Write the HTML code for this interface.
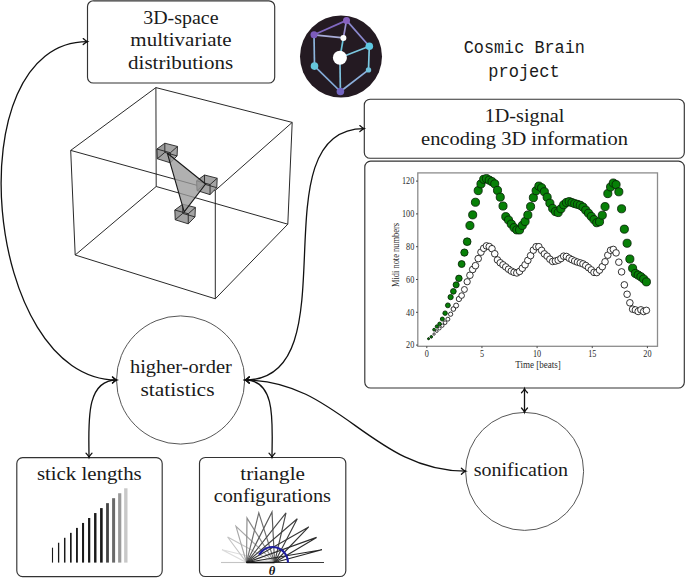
<!DOCTYPE html>
<html><head><meta charset="utf-8"><style>
html,body{margin:0;padding:0;background:#fff;width:685px;height:578px;overflow:hidden;font-family:"Liberation Serif",serif;}
svg{display:block}
</style></head><body>
<svg width="685" height="578" viewBox="0 0 685 578"><rect x="87.5" y="0.8" width="187.2" height="82.2" rx="5.8" ry="5.8" fill="none" stroke="#333" stroke-width="1.15"/>
<text x="180.9" y="23.7" font-family="Liberation Serif" font-size="19.5" fill="#1a1a1a" text-anchor="middle" textLength="75.4" lengthAdjust="spacingAndGlyphs" >3D-space</text>
<text x="181" y="46" font-family="Liberation Serif" font-size="19.5" fill="#1a1a1a" text-anchor="middle" textLength="101.3" lengthAdjust="spacingAndGlyphs" >multivariate</text>
<text x="180.6" y="68.8" font-family="Liberation Serif" font-size="19.5" fill="#1a1a1a" text-anchor="middle" textLength="105" lengthAdjust="spacingAndGlyphs" >distributions</text>
<text x="524.3" y="53" font-family="Liberation Mono" font-size="17.5" fill="#1a1a1a" text-anchor="middle" textLength="121.1" lengthAdjust="spacingAndGlyphs" >Cosmic Brain</text>
<text x="524" y="76.6" font-family="Liberation Mono" font-size="17.5" fill="#1a1a1a" text-anchor="middle" textLength="71.5" lengthAdjust="spacingAndGlyphs" >project</text>
<rect x="364.3" y="99.2" width="320" height="59.1" rx="5.8" ry="5.8" fill="none" stroke="#333" stroke-width="1.15"/>
<text x="524.5" y="121.7" font-family="Liberation Serif" font-size="19.5" fill="#1a1a1a" text-anchor="middle" textLength="79.7" lengthAdjust="spacingAndGlyphs" >1D-signal</text>
<text x="524.5" y="145.1" font-family="Liberation Serif" font-size="19.5" fill="#1a1a1a" text-anchor="middle" textLength="206.9" lengthAdjust="spacingAndGlyphs" >encoding 3D information</text>
<rect x="364.8" y="161.1" width="319.5" height="226.9" rx="5.8" ry="5.8" fill="none" stroke="#333" stroke-width="1.15"/>
<circle cx="180.6" cy="380" r="64.1" fill="none" stroke="#444" stroke-width="0.9"/>
<text x="180.85" y="373.1" font-family="Liberation Serif" font-size="19.5" fill="#1a1a1a" text-anchor="middle" textLength="101.9" lengthAdjust="spacingAndGlyphs" >higher-order</text>
<text x="177.5" y="396.1" font-family="Liberation Serif" font-size="19.5" fill="#1a1a1a" text-anchor="middle" textLength="74" lengthAdjust="spacingAndGlyphs" >statistics</text>
<circle cx="524.6" cy="471.4" r="59" fill="none" stroke="#444" stroke-width="0.9"/>
<text x="520.9" y="476" font-family="Liberation Serif" font-size="19.5" fill="#1a1a1a" text-anchor="middle" textLength="94.4" lengthAdjust="spacingAndGlyphs" >sonification</text>
<rect x="16.8" y="457.6" width="145.4" height="119" rx="5.8" ry="5.8" fill="none" stroke="#333" stroke-width="1.15"/>
<text x="89.3" y="480.1" font-family="Liberation Serif" font-size="19.5" fill="#1a1a1a" text-anchor="middle" textLength="104.8" lengthAdjust="spacingAndGlyphs" >stick lengths</text>
<rect x="199.5" y="457.5" width="146.3" height="119" rx="5.8" ry="5.8" fill="none" stroke="#333" stroke-width="1.15"/>
<text x="272.6" y="479.5" font-family="Liberation Serif" font-size="19.5" fill="#1a1a1a" text-anchor="middle" textLength="64.6" lengthAdjust="spacingAndGlyphs" >triangle</text>
<text x="272.3" y="502.1" font-family="Liberation Serif" font-size="19.5" fill="#1a1a1a" text-anchor="middle" textLength="117.3" lengthAdjust="spacingAndGlyphs" >configurations</text>
<rect x="51.95" y="547.7" width="1.1" height="14.9" fill="#1a1a1a"/>
<rect x="57.96" y="542.75" width="1.29" height="19.85" fill="#1a1a1a"/>
<rect x="63.98" y="537.8" width="1.48" height="24.8" fill="#1a1a1a"/>
<rect x="70" y="532.85" width="1.67" height="29.75" fill="#1a1a1a"/>
<rect x="76.01" y="527.9" width="1.86" height="34.7" fill="#1a1a1a"/>
<rect x="82.02" y="522.95" width="2.05" height="39.65" fill="#1a1a1a"/>
<rect x="88.04" y="518" width="2.24" height="44.6" fill="#1a1a1a"/>
<rect x="94.06" y="513.05" width="2.43" height="49.55" fill="#1a1a1a"/>
<rect x="100.07" y="508.1" width="2.62" height="54.5" fill="#1a1a1a"/>
<rect x="106.09" y="503.15" width="2.81" height="59.45" fill="#444"/>
<rect x="112.1" y="498.2" width="3" height="64.4" fill="#6a6a6a"/>
<rect x="118.12" y="493.25" width="3.19" height="69.35" fill="#9a9a9a"/>
<rect x="124.13" y="488.3" width="3.38" height="74.3" fill="#c8c8c8"/>
<line x1="221" y1="562.5" x2="246.5" y2="562.5" stroke="#c4c4c4" stroke-width="1.1"/>
<line x1="274.6" y1="562.5" x2="324" y2="562.5" stroke="#3a3a3a" stroke-width="1.0"/>
<path d="M246.5,562.5 L222,549.7 L274.6,562.5" fill="none" stroke="#dcdcdc" stroke-width="1.15"/>
<path d="M246.5,562.5 L227.6,537 L274.6,562.5" fill="none" stroke="#c4c4c4" stroke-width="1.15"/>
<path d="M246.5,562.5 L236,526.4 L274.6,562.5" fill="none" stroke="#a8a8a8" stroke-width="1.15"/>
<path d="M246.5,562.5 L247,518.1 L274.6,562.5" fill="none" stroke="#8a8a8a" stroke-width="1.15"/>
<path d="M246.5,562.5 L258.8,512.9 L274.6,562.5" fill="none" stroke="#6e6e6e" stroke-width="1.15"/>
<path d="M246.5,562.5 L272,512 L274.6,562.5" fill="none" stroke="#5a5a5a" stroke-width="1.15"/>
<path d="M246.5,562.5 L286,512.9 L274.6,562.5" fill="none" stroke="#4a4a4a" stroke-width="1.15"/>
<path d="M246.5,562.5 L297.3,518.7 L274.6,562.5" fill="none" stroke="#3e3e3e" stroke-width="1.15"/>
<path d="M246.5,562.5 L308.7,526.9 L274.6,562.5" fill="none" stroke="#343434" stroke-width="1.15"/>
<path d="M246.5,562.5 L316.6,537.4 L274.6,562.5" fill="none" stroke="#2c2c2c" stroke-width="1.15"/>
<path d="M246.5,562.5 L321.9,549.7 L274.6,562.5" fill="none" stroke="#262626" stroke-width="1.15"/>
<line x1="246.5" y1="562.5" x2="274.6" y2="562.5" stroke="#111" stroke-width="1.6"/>
<path d="M259.08,554.75 A15.5,15.5 0 0 1 288,562.5" fill="none" stroke="#1f1fa0" stroke-width="2"/>
<text x="272" y="575" font-family="Liberation Serif" font-size="12.5" fill="#111" text-anchor="middle" font-weight="bold" font-style="italic">θ</text>
<line x1="155.9" y1="87.6" x2="292.2" y2="122.4" stroke="#1e1e1e" stroke-width="0.95"/>
<line x1="155.9" y1="87.6" x2="70.7" y2="150.4" stroke="#1e1e1e" stroke-width="0.95"/>
<line x1="70.7" y1="150.4" x2="215.3" y2="190.4" stroke="#1e1e1e" stroke-width="0.95"/>
<line x1="292.2" y1="122.4" x2="215.3" y2="190.4" stroke="#1e1e1e" stroke-width="0.95"/>
<line x1="155.9" y1="87.6" x2="156.2" y2="186.5" stroke="#1e1e1e" stroke-width="0.95"/>
<line x1="292.2" y1="122.4" x2="287.8" y2="224.2" stroke="#1e1e1e" stroke-width="0.95"/>
<line x1="70.7" y1="150.4" x2="75.2" y2="255" stroke="#1e1e1e" stroke-width="0.95"/>
<line x1="215.3" y1="190.4" x2="215.3" y2="298.8" stroke="#1e1e1e" stroke-width="0.95"/>
<line x1="156.2" y1="186.5" x2="287.8" y2="224.2" stroke="#1e1e1e" stroke-width="0.95"/>
<line x1="156.2" y1="186.5" x2="75.2" y2="255" stroke="#1e1e1e" stroke-width="0.95"/>
<line x1="75.2" y1="255" x2="215.3" y2="298.8" stroke="#1e1e1e" stroke-width="0.95"/>
<line x1="287.8" y1="224.2" x2="215.3" y2="298.8" stroke="#1e1e1e" stroke-width="0.95"/>
<path d="M164.82,143.2 L177.5,146.44 L177.09,155.9 L170.35,162.84 L157.32,158.77 L156.9,149.04 Z" fill="#a4a4a4" stroke="none"/>
<path d="M164.82,143.2 L164.85,152.4 L157.32,158.77 L156.9,149.04 Z" fill="#8c8c8c" fill-opacity="0.35" stroke="none"/>
<line x1="164.82" y1="143.2" x2="177.5" y2="146.44" stroke="#222" stroke-width="0.9"/>
<line x1="164.82" y1="143.2" x2="156.9" y2="149.04" stroke="#222" stroke-width="0.9"/>
<line x1="156.9" y1="149.04" x2="170.35" y2="152.76" stroke="#222" stroke-width="0.9"/>
<line x1="177.5" y1="146.44" x2="170.35" y2="152.76" stroke="#222" stroke-width="0.9"/>
<line x1="164.82" y1="143.2" x2="164.85" y2="152.4" stroke="#222" stroke-width="0.9"/>
<line x1="177.5" y1="146.44" x2="177.09" y2="155.9" stroke="#222" stroke-width="0.9"/>
<line x1="156.9" y1="149.04" x2="157.32" y2="158.77" stroke="#222" stroke-width="0.9"/>
<line x1="170.35" y1="152.76" x2="170.35" y2="162.84" stroke="#222" stroke-width="0.9"/>
<line x1="164.85" y1="152.4" x2="177.09" y2="155.9" stroke="#222" stroke-width="0.9"/>
<line x1="164.85" y1="152.4" x2="157.32" y2="158.77" stroke="#222" stroke-width="0.9"/>
<line x1="157.32" y1="158.77" x2="170.35" y2="162.84" stroke="#222" stroke-width="0.9"/>
<line x1="177.09" y1="155.9" x2="170.35" y2="162.84" stroke="#222" stroke-width="0.9"/>
<path d="M204.52,175 L217.2,178.24 L216.79,187.7 L210.05,194.64 L197.02,190.57 L196.6,180.84 Z" fill="#a4a4a4" stroke="none"/>
<path d="M204.52,175 L204.55,184.2 L197.02,190.57 L196.6,180.84 Z" fill="#8c8c8c" fill-opacity="0.35" stroke="none"/>
<line x1="204.52" y1="175" x2="217.2" y2="178.24" stroke="#222" stroke-width="0.9"/>
<line x1="204.52" y1="175" x2="196.6" y2="180.84" stroke="#222" stroke-width="0.9"/>
<line x1="196.6" y1="180.84" x2="210.05" y2="184.56" stroke="#222" stroke-width="0.9"/>
<line x1="217.2" y1="178.24" x2="210.05" y2="184.56" stroke="#222" stroke-width="0.9"/>
<line x1="204.52" y1="175" x2="204.55" y2="184.2" stroke="#222" stroke-width="0.9"/>
<line x1="217.2" y1="178.24" x2="216.79" y2="187.7" stroke="#222" stroke-width="0.9"/>
<line x1="196.6" y1="180.84" x2="197.02" y2="190.57" stroke="#222" stroke-width="0.9"/>
<line x1="210.05" y1="184.56" x2="210.05" y2="194.64" stroke="#222" stroke-width="0.9"/>
<line x1="204.55" y1="184.2" x2="216.79" y2="187.7" stroke="#222" stroke-width="0.9"/>
<line x1="204.55" y1="184.2" x2="197.02" y2="190.57" stroke="#222" stroke-width="0.9"/>
<line x1="197.02" y1="190.57" x2="210.05" y2="194.64" stroke="#222" stroke-width="0.9"/>
<line x1="216.79" y1="187.7" x2="210.05" y2="194.64" stroke="#222" stroke-width="0.9"/>
<path d="M182.72,204.2 L195.4,207.44 L194.99,216.9 L188.25,223.84 L175.22,219.77 L174.8,210.04 Z" fill="#a4a4a4" stroke="none"/>
<path d="M182.72,204.2 L182.75,213.4 L175.22,219.77 L174.8,210.04 Z" fill="#8c8c8c" fill-opacity="0.35" stroke="none"/>
<line x1="182.72" y1="204.2" x2="195.4" y2="207.44" stroke="#222" stroke-width="0.9"/>
<line x1="182.72" y1="204.2" x2="174.8" y2="210.04" stroke="#222" stroke-width="0.9"/>
<line x1="174.8" y1="210.04" x2="188.25" y2="213.76" stroke="#222" stroke-width="0.9"/>
<line x1="195.4" y1="207.44" x2="188.25" y2="213.76" stroke="#222" stroke-width="0.9"/>
<line x1="182.72" y1="204.2" x2="182.75" y2="213.4" stroke="#222" stroke-width="0.9"/>
<line x1="195.4" y1="207.44" x2="194.99" y2="216.9" stroke="#222" stroke-width="0.9"/>
<line x1="174.8" y1="210.04" x2="175.22" y2="219.77" stroke="#222" stroke-width="0.9"/>
<line x1="188.25" y1="213.76" x2="188.25" y2="223.84" stroke="#222" stroke-width="0.9"/>
<line x1="182.75" y1="213.4" x2="194.99" y2="216.9" stroke="#222" stroke-width="0.9"/>
<line x1="182.75" y1="213.4" x2="175.22" y2="219.77" stroke="#222" stroke-width="0.9"/>
<line x1="175.22" y1="219.77" x2="188.25" y2="223.84" stroke="#222" stroke-width="0.9"/>
<line x1="194.99" y1="216.9" x2="188.25" y2="223.84" stroke="#222" stroke-width="0.9"/>
<path d="M167.4,153.3 L205.6,184 L184.2,211.8 Z" fill="#9a9a9a" fill-opacity="0.78" stroke="#1a1a1a" stroke-width="1.15" stroke-linejoin="round"/>
<circle cx="341" cy="56.5" r="41" fill="#241a22"/>
<line x1="346.5" y1="20.4" x2="314" y2="34.8" stroke="#8068c0" stroke-width="1.7"/>
<line x1="346.5" y1="20.4" x2="343.4" y2="37.9" stroke="#9a90d0" stroke-width="1.7"/>
<line x1="346.5" y1="20.4" x2="369.3" y2="46.3" stroke="#8c8ad0" stroke-width="1.7"/>
<line x1="314" y1="34.8" x2="343.4" y2="37.9" stroke="#a8acd8" stroke-width="1.7"/>
<line x1="314" y1="34.8" x2="314.5" y2="66.1" stroke="#8cb4dc" stroke-width="1.7"/>
<line x1="343.4" y1="37.9" x2="339.9" y2="57.7" stroke="#6cc4dc" stroke-width="1.7"/>
<line x1="339.9" y1="57.7" x2="369.3" y2="46.3" stroke="#7cc8e0" stroke-width="1.7"/>
<line x1="339.9" y1="57.7" x2="340.4" y2="91.5" stroke="#7cc0dc" stroke-width="1.7"/>
<line x1="314.5" y1="66.1" x2="340.4" y2="91.5" stroke="#84acd8" stroke-width="1.7"/>
<line x1="369.3" y1="46.3" x2="368.5" y2="69.9" stroke="#7cc8e0" stroke-width="1.7"/>
<line x1="368.5" y1="69.9" x2="340.4" y2="91.5" stroke="#8cb0dc" stroke-width="1.7"/>
<circle cx="346.5" cy="20.4" r="3.5" fill="#8862c0"/>
<circle cx="314" cy="34.8" r="3.5" fill="#7c5cbc"/>
<circle cx="343.4" cy="37.9" r="3.0" fill="#ffffff"/>
<circle cx="369.3" cy="46.3" r="3.8" fill="#5ec8e2"/>
<circle cx="339.9" cy="57.7" r="7.0" fill="#ffffff"/>
<circle cx="314.5" cy="66.1" r="3.8" fill="#66c6dc"/>
<circle cx="368.5" cy="69.9" r="2.7" fill="#70c2dc"/>
<circle cx="340.4" cy="91.5" r="3.8" fill="#7264c0"/>
<rect x="417.8" y="172.9" width="239.7" height="173.4" fill="none" stroke="#8c8c8c" stroke-width="1.3"/>
<line x1="416" y1="345.1" x2="417.8" y2="345.1" stroke="#333" stroke-width="0.9"/>
<text x="414.3" y="348.3" font-family="Liberation Serif" font-size="9.8" fill="#2a2a2a" text-anchor="end" textLength="8.2" lengthAdjust="spacingAndGlyphs" >20</text>
<line x1="416" y1="312.3" x2="417.8" y2="312.3" stroke="#333" stroke-width="0.9"/>
<text x="414.3" y="315.5" font-family="Liberation Serif" font-size="9.8" fill="#2a2a2a" text-anchor="end" textLength="8.2" lengthAdjust="spacingAndGlyphs" >40</text>
<line x1="416" y1="279.5" x2="417.8" y2="279.5" stroke="#333" stroke-width="0.9"/>
<text x="414.3" y="282.7" font-family="Liberation Serif" font-size="9.8" fill="#2a2a2a" text-anchor="end" textLength="8.2" lengthAdjust="spacingAndGlyphs" >60</text>
<line x1="416" y1="246.7" x2="417.8" y2="246.7" stroke="#333" stroke-width="0.9"/>
<text x="414.3" y="249.9" font-family="Liberation Serif" font-size="9.8" fill="#2a2a2a" text-anchor="end" textLength="8.2" lengthAdjust="spacingAndGlyphs" >80</text>
<line x1="416" y1="213.9" x2="417.8" y2="213.9" stroke="#333" stroke-width="0.9"/>
<text x="414.3" y="217.1" font-family="Liberation Serif" font-size="9.8" fill="#2a2a2a" text-anchor="end" textLength="12.3" lengthAdjust="spacingAndGlyphs" >100</text>
<line x1="416" y1="181.1" x2="417.8" y2="181.1" stroke="#333" stroke-width="0.9"/>
<text x="414.3" y="184.3" font-family="Liberation Serif" font-size="9.8" fill="#2a2a2a" text-anchor="end" textLength="12.3" lengthAdjust="spacingAndGlyphs" >120</text>
<line x1="426.8" y1="346.3" x2="426.8" y2="348.1" stroke="#333" stroke-width="0.9"/>
<text x="426.8" y="357" font-family="Liberation Serif" font-size="9.8" fill="#2a2a2a" text-anchor="middle" textLength="4.1" lengthAdjust="spacingAndGlyphs" >0</text>
<line x1="481.95" y1="346.3" x2="481.95" y2="348.1" stroke="#333" stroke-width="0.9"/>
<text x="481.95" y="357" font-family="Liberation Serif" font-size="9.8" fill="#2a2a2a" text-anchor="middle" textLength="4.1" lengthAdjust="spacingAndGlyphs" >5</text>
<line x1="537.1" y1="346.3" x2="537.1" y2="348.1" stroke="#333" stroke-width="0.9"/>
<text x="537.1" y="357" font-family="Liberation Serif" font-size="9.8" fill="#2a2a2a" text-anchor="middle" textLength="8.2" lengthAdjust="spacingAndGlyphs" >10</text>
<line x1="592.25" y1="346.3" x2="592.25" y2="348.1" stroke="#333" stroke-width="0.9"/>
<text x="592.25" y="357" font-family="Liberation Serif" font-size="9.8" fill="#2a2a2a" text-anchor="middle" textLength="8.2" lengthAdjust="spacingAndGlyphs" >15</text>
<line x1="647.4" y1="346.3" x2="647.4" y2="348.1" stroke="#333" stroke-width="0.9"/>
<text x="647.4" y="357" font-family="Liberation Serif" font-size="9.8" fill="#2a2a2a" text-anchor="middle" textLength="8.2" lengthAdjust="spacingAndGlyphs" >20</text>
<text x="538" y="367.8" font-family="Liberation Serif" font-size="9.5" fill="#2a2a2a" text-anchor="middle" textLength="45.5" lengthAdjust="spacingAndGlyphs" >Time [beats]</text>
<text x="0" y="0" font-family="Liberation Serif" font-size="9.5" fill="#2a2a2a" text-anchor="middle" textLength="64" lengthAdjust="spacingAndGlyphs" transform="translate(398.5,255) rotate(-90)">Midi note numbers</text>
<circle cx="428.56" cy="338.7" r="0.83" fill="#fff" stroke="#111" stroke-width="0.85"/>
<circle cx="431.32" cy="336.89" r="1" fill="#fff" stroke="#111" stroke-width="0.85"/>
<circle cx="434.08" cy="334.08" r="1.16" fill="#fff" stroke="#111" stroke-width="0.85"/>
<circle cx="436.84" cy="331.1" r="1.33" fill="#fff" stroke="#111" stroke-width="0.85"/>
<circle cx="439.59" cy="328.46" r="1.49" fill="#fff" stroke="#111" stroke-width="0.85"/>
<circle cx="442.35" cy="325.7" r="1.66" fill="#fff" stroke="#111" stroke-width="0.85"/>
<circle cx="445.11" cy="322.7" r="1.82" fill="#fff" stroke="#111" stroke-width="0.85"/>
<circle cx="447.87" cy="319.18" r="1.99" fill="#fff" stroke="#111" stroke-width="0.85"/>
<circle cx="450.62" cy="314.19" r="2.15" fill="#fff" stroke="#111" stroke-width="0.85"/>
<circle cx="453.38" cy="309.03" r="2.32" fill="#fff" stroke="#111" stroke-width="0.85"/>
<circle cx="456.14" cy="305.55" r="2.48" fill="#fff" stroke="#111" stroke-width="0.85"/>
<circle cx="458.9" cy="298.99" r="2.65" fill="#fff" stroke="#111" stroke-width="0.85"/>
<circle cx="461.65" cy="295.57" r="2.81" fill="#fff" stroke="#111" stroke-width="0.85"/>
<circle cx="464.41" cy="289.48" r="2.98" fill="#fff" stroke="#111" stroke-width="0.85"/>
<circle cx="467.17" cy="281.73" r="3.14" fill="#fff" stroke="#111" stroke-width="0.85"/>
<circle cx="469.93" cy="275.25" r="3.3" fill="#fff" stroke="#111" stroke-width="0.85"/>
<circle cx="472.68" cy="269.47" r="3.3" fill="#fff" stroke="#111" stroke-width="0.85"/>
<circle cx="475.44" cy="265.67" r="3.3" fill="#fff" stroke="#111" stroke-width="0.85"/>
<circle cx="478.2" cy="258.61" r="3.3" fill="#fff" stroke="#111" stroke-width="0.85"/>
<circle cx="480.96" cy="252.18" r="3.3" fill="#fff" stroke="#111" stroke-width="0.85"/>
<circle cx="483.71" cy="248.28" r="3.3" fill="#fff" stroke="#111" stroke-width="0.85"/>
<circle cx="486.47" cy="245.88" r="3.3" fill="#fff" stroke="#111" stroke-width="0.85"/>
<circle cx="489.23" cy="246.53" r="3.3" fill="#fff" stroke="#111" stroke-width="0.85"/>
<circle cx="491.99" cy="248.7" r="3.3" fill="#fff" stroke="#111" stroke-width="0.85"/>
<circle cx="494.74" cy="253.76" r="3.3" fill="#fff" stroke="#111" stroke-width="0.85"/>
<circle cx="497.5" cy="259.96" r="3.3" fill="#fff" stroke="#111" stroke-width="0.85"/>
<circle cx="500.26" cy="262.79" r="3.3" fill="#fff" stroke="#111" stroke-width="0.85"/>
<circle cx="503.02" cy="264.84" r="3.3" fill="#fff" stroke="#111" stroke-width="0.85"/>
<circle cx="505.77" cy="266.92" r="3.3" fill="#fff" stroke="#111" stroke-width="0.85"/>
<circle cx="508.53" cy="269.21" r="3.3" fill="#fff" stroke="#111" stroke-width="0.85"/>
<circle cx="511.29" cy="271.09" r="3.3" fill="#fff" stroke="#111" stroke-width="0.85"/>
<circle cx="514.05" cy="272.33" r="3.3" fill="#fff" stroke="#111" stroke-width="0.85"/>
<circle cx="516.8" cy="272.94" r="3.3" fill="#fff" stroke="#111" stroke-width="0.85"/>
<circle cx="519.56" cy="271.43" r="3.3" fill="#fff" stroke="#111" stroke-width="0.85"/>
<circle cx="522.32" cy="268.27" r="3.3" fill="#fff" stroke="#111" stroke-width="0.85"/>
<circle cx="525.08" cy="264.81" r="3.3" fill="#fff" stroke="#111" stroke-width="0.85"/>
<circle cx="527.83" cy="260.39" r="3.3" fill="#fff" stroke="#111" stroke-width="0.85"/>
<circle cx="530.59" cy="255.63" r="3.3" fill="#fff" stroke="#111" stroke-width="0.85"/>
<circle cx="533.35" cy="250.14" r="3.3" fill="#fff" stroke="#111" stroke-width="0.85"/>
<circle cx="536.11" cy="246.7" r="3.3" fill="#fff" stroke="#111" stroke-width="0.85"/>
<circle cx="538.86" cy="246.7" r="3.3" fill="#fff" stroke="#111" stroke-width="0.85"/>
<circle cx="541.62" cy="250.37" r="3.3" fill="#fff" stroke="#111" stroke-width="0.85"/>
<circle cx="544.38" cy="253.9" r="3.3" fill="#fff" stroke="#111" stroke-width="0.85"/>
<circle cx="547.14" cy="256.15" r="3.3" fill="#fff" stroke="#111" stroke-width="0.85"/>
<circle cx="549.89" cy="259.19" r="3.3" fill="#fff" stroke="#111" stroke-width="0.85"/>
<circle cx="552.65" cy="261.46" r="3.3" fill="#fff" stroke="#111" stroke-width="0.85"/>
<circle cx="555.41" cy="261.07" r="3.3" fill="#fff" stroke="#111" stroke-width="0.85"/>
<circle cx="558.17" cy="260.19" r="3.3" fill="#fff" stroke="#111" stroke-width="0.85"/>
<circle cx="560.92" cy="258.56" r="3.3" fill="#fff" stroke="#111" stroke-width="0.85"/>
<circle cx="563.68" cy="256.17" r="3.3" fill="#fff" stroke="#111" stroke-width="0.85"/>
<circle cx="566.44" cy="256.48" r="3.3" fill="#fff" stroke="#111" stroke-width="0.85"/>
<circle cx="569.2" cy="258.24" r="3.3" fill="#fff" stroke="#111" stroke-width="0.85"/>
<circle cx="571.95" cy="259.68" r="3.3" fill="#fff" stroke="#111" stroke-width="0.85"/>
<circle cx="574.71" cy="261.03" r="3.3" fill="#fff" stroke="#111" stroke-width="0.85"/>
<circle cx="577.47" cy="262.09" r="3.3" fill="#fff" stroke="#111" stroke-width="0.85"/>
<circle cx="580.23" cy="262.91" r="3.3" fill="#fff" stroke="#111" stroke-width="0.85"/>
<circle cx="582.98" cy="263.89" r="3.3" fill="#fff" stroke="#111" stroke-width="0.85"/>
<circle cx="585.74" cy="265.49" r="3.3" fill="#fff" stroke="#111" stroke-width="0.85"/>
<circle cx="588.5" cy="267.65" r="3.3" fill="#fff" stroke="#111" stroke-width="0.85"/>
<circle cx="591.26" cy="269.89" r="3.3" fill="#fff" stroke="#111" stroke-width="0.85"/>
<circle cx="594.01" cy="272.38" r="3.3" fill="#fff" stroke="#111" stroke-width="0.85"/>
<circle cx="596.77" cy="272.57" r="3.3" fill="#fff" stroke="#111" stroke-width="0.85"/>
<circle cx="599.53" cy="270.11" r="3.3" fill="#fff" stroke="#111" stroke-width="0.85"/>
<circle cx="602.29" cy="266.65" r="3.3" fill="#fff" stroke="#111" stroke-width="0.85"/>
<circle cx="605.04" cy="261.79" r="3.3" fill="#fff" stroke="#111" stroke-width="0.85"/>
<circle cx="607.8" cy="255.18" r="3.3" fill="#fff" stroke="#111" stroke-width="0.85"/>
<circle cx="610.56" cy="250.3" r="3.3" fill="#fff" stroke="#111" stroke-width="0.85"/>
<circle cx="613.32" cy="249.44" r="3.3" fill="#fff" stroke="#111" stroke-width="0.85"/>
<circle cx="616.07" cy="252.88" r="3.3" fill="#fff" stroke="#111" stroke-width="0.85"/>
<circle cx="618.83" cy="262.18" r="3.3" fill="#fff" stroke="#111" stroke-width="0.85"/>
<circle cx="621.59" cy="271.88" r="3.3" fill="#fff" stroke="#111" stroke-width="0.85"/>
<circle cx="624.35" cy="284.85" r="3.3" fill="#fff" stroke="#111" stroke-width="0.85"/>
<circle cx="627.1" cy="294.26" r="3.3" fill="#fff" stroke="#111" stroke-width="0.85"/>
<circle cx="629.86" cy="302.79" r="3.3" fill="#fff" stroke="#111" stroke-width="0.85"/>
<circle cx="632.62" cy="309.18" r="3.3" fill="#fff" stroke="#111" stroke-width="0.85"/>
<circle cx="635.38" cy="309.93" r="3.3" fill="#fff" stroke="#111" stroke-width="0.85"/>
<circle cx="638.13" cy="311.46" r="3.3" fill="#fff" stroke="#111" stroke-width="0.85"/>
<circle cx="640.89" cy="309.85" r="3.3" fill="#fff" stroke="#111" stroke-width="0.85"/>
<circle cx="643.65" cy="311.53" r="3.3" fill="#fff" stroke="#111" stroke-width="0.85"/>
<circle cx="646.41" cy="310.38" r="3.3" fill="#fff" stroke="#111" stroke-width="0.85"/>
<circle cx="428.56" cy="338.7" r="1.02" fill="#078007" stroke="#062406" stroke-width="0.85"/>
<circle cx="431.32" cy="336.79" r="1.22" fill="#078007" stroke="#062406" stroke-width="0.85"/>
<circle cx="434.08" cy="329.67" r="1.43" fill="#078007" stroke="#062406" stroke-width="0.85"/>
<circle cx="436.84" cy="326.46" r="1.63" fill="#078007" stroke="#062406" stroke-width="0.85"/>
<circle cx="439.59" cy="323.92" r="1.83" fill="#078007" stroke="#062406" stroke-width="0.85"/>
<circle cx="442.35" cy="319.08" r="2.03" fill="#078007" stroke="#062406" stroke-width="0.85"/>
<circle cx="445.11" cy="313.15" r="2.24" fill="#078007" stroke="#062406" stroke-width="0.85"/>
<circle cx="447.87" cy="305.36" r="2.44" fill="#078007" stroke="#062406" stroke-width="0.85"/>
<circle cx="450.62" cy="297.09" r="2.64" fill="#078007" stroke="#062406" stroke-width="0.85"/>
<circle cx="453.38" cy="291.37" r="2.84" fill="#078007" stroke="#062406" stroke-width="0.85"/>
<circle cx="456.14" cy="284.86" r="3.05" fill="#078007" stroke="#062406" stroke-width="0.85"/>
<circle cx="458.9" cy="278.36" r="3.25" fill="#078007" stroke="#062406" stroke-width="0.85"/>
<circle cx="461.65" cy="264.05" r="3.45" fill="#078007" stroke="#062406" stroke-width="0.85"/>
<circle cx="464.41" cy="252.59" r="3.65" fill="#078007" stroke="#062406" stroke-width="0.85"/>
<circle cx="467.17" cy="241.71" r="3.86" fill="#078007" stroke="#062406" stroke-width="0.85"/>
<circle cx="469.93" cy="225.54" r="4.05" fill="#078007" stroke="#062406" stroke-width="0.85"/>
<circle cx="472.68" cy="214.87" r="4.05" fill="#078007" stroke="#062406" stroke-width="0.85"/>
<circle cx="475.44" cy="202.26" r="4.05" fill="#078007" stroke="#062406" stroke-width="0.85"/>
<circle cx="478.2" cy="190.61" r="4.05" fill="#078007" stroke="#062406" stroke-width="0.85"/>
<circle cx="480.96" cy="183.93" r="4.05" fill="#078007" stroke="#062406" stroke-width="0.85"/>
<circle cx="483.71" cy="179.31" r="4.05" fill="#078007" stroke="#062406" stroke-width="0.85"/>
<circle cx="486.47" cy="178.64" r="4.05" fill="#078007" stroke="#062406" stroke-width="0.85"/>
<circle cx="489.23" cy="180.14" r="4.05" fill="#078007" stroke="#062406" stroke-width="0.85"/>
<circle cx="491.99" cy="181.64" r="4.05" fill="#078007" stroke="#062406" stroke-width="0.85"/>
<circle cx="494.74" cy="183.86" r="4.05" fill="#078007" stroke="#062406" stroke-width="0.85"/>
<circle cx="497.5" cy="190.38" r="4.05" fill="#078007" stroke="#062406" stroke-width="0.85"/>
<circle cx="500.26" cy="197.15" r="4.05" fill="#078007" stroke="#062406" stroke-width="0.85"/>
<circle cx="503.02" cy="206.04" r="4.05" fill="#078007" stroke="#062406" stroke-width="0.85"/>
<circle cx="505.77" cy="216.66" r="4.05" fill="#078007" stroke="#062406" stroke-width="0.85"/>
<circle cx="508.53" cy="220.01" r="4.05" fill="#078007" stroke="#062406" stroke-width="0.85"/>
<circle cx="511.29" cy="224.05" r="4.05" fill="#078007" stroke="#062406" stroke-width="0.85"/>
<circle cx="514.05" cy="227.6" r="4.05" fill="#078007" stroke="#062406" stroke-width="0.85"/>
<circle cx="516.8" cy="229.88" r="4.05" fill="#078007" stroke="#062406" stroke-width="0.85"/>
<circle cx="519.56" cy="229.92" r="4.05" fill="#078007" stroke="#062406" stroke-width="0.85"/>
<circle cx="522.32" cy="225.42" r="4.05" fill="#078007" stroke="#062406" stroke-width="0.85"/>
<circle cx="525.08" cy="221.48" r="4.05" fill="#078007" stroke="#062406" stroke-width="0.85"/>
<circle cx="527.83" cy="214.99" r="4.05" fill="#078007" stroke="#062406" stroke-width="0.85"/>
<circle cx="530.59" cy="206.59" r="4.05" fill="#078007" stroke="#062406" stroke-width="0.85"/>
<circle cx="533.35" cy="197.66" r="4.05" fill="#078007" stroke="#062406" stroke-width="0.85"/>
<circle cx="536.11" cy="190.68" r="4.05" fill="#078007" stroke="#062406" stroke-width="0.85"/>
<circle cx="538.86" cy="186.1" r="4.05" fill="#078007" stroke="#062406" stroke-width="0.85"/>
<circle cx="541.62" cy="187.79" r="4.05" fill="#078007" stroke="#062406" stroke-width="0.85"/>
<circle cx="544.38" cy="191.73" r="4.05" fill="#078007" stroke="#062406" stroke-width="0.85"/>
<circle cx="547.14" cy="197.2" r="4.05" fill="#078007" stroke="#062406" stroke-width="0.85"/>
<circle cx="549.89" cy="203.19" r="4.05" fill="#078007" stroke="#062406" stroke-width="0.85"/>
<circle cx="552.65" cy="208.44" r="4.05" fill="#078007" stroke="#062406" stroke-width="0.85"/>
<circle cx="555.41" cy="211.6" r="4.05" fill="#078007" stroke="#062406" stroke-width="0.85"/>
<circle cx="558.17" cy="212.57" r="4.05" fill="#078007" stroke="#062406" stroke-width="0.85"/>
<circle cx="560.92" cy="208.78" r="4.05" fill="#078007" stroke="#062406" stroke-width="0.85"/>
<circle cx="563.68" cy="204.79" r="4.05" fill="#078007" stroke="#062406" stroke-width="0.85"/>
<circle cx="566.44" cy="202.45" r="4.05" fill="#078007" stroke="#062406" stroke-width="0.85"/>
<circle cx="569.2" cy="201.63" r="4.05" fill="#078007" stroke="#062406" stroke-width="0.85"/>
<circle cx="571.95" cy="202.6" r="4.05" fill="#078007" stroke="#062406" stroke-width="0.85"/>
<circle cx="574.71" cy="203.61" r="4.05" fill="#078007" stroke="#062406" stroke-width="0.85"/>
<circle cx="577.47" cy="204.36" r="4.05" fill="#078007" stroke="#062406" stroke-width="0.85"/>
<circle cx="580.23" cy="205.3" r="4.05" fill="#078007" stroke="#062406" stroke-width="0.85"/>
<circle cx="582.98" cy="207.1" r="4.05" fill="#078007" stroke="#062406" stroke-width="0.85"/>
<circle cx="585.74" cy="210.15" r="4.05" fill="#078007" stroke="#062406" stroke-width="0.85"/>
<circle cx="588.5" cy="213.23" r="4.05" fill="#078007" stroke="#062406" stroke-width="0.85"/>
<circle cx="591.26" cy="216.46" r="4.05" fill="#078007" stroke="#062406" stroke-width="0.85"/>
<circle cx="594.01" cy="219.6" r="4.05" fill="#078007" stroke="#062406" stroke-width="0.85"/>
<circle cx="596.77" cy="222.73" r="4.05" fill="#078007" stroke="#062406" stroke-width="0.85"/>
<circle cx="599.53" cy="221.73" r="4.05" fill="#078007" stroke="#062406" stroke-width="0.85"/>
<circle cx="602.29" cy="215.21" r="4.05" fill="#078007" stroke="#062406" stroke-width="0.85"/>
<circle cx="605.04" cy="206.62" r="4.05" fill="#078007" stroke="#062406" stroke-width="0.85"/>
<circle cx="607.8" cy="193.62" r="4.05" fill="#078007" stroke="#062406" stroke-width="0.85"/>
<circle cx="610.56" cy="186.98" r="4.05" fill="#078007" stroke="#062406" stroke-width="0.85"/>
<circle cx="613.32" cy="183.02" r="4.05" fill="#078007" stroke="#062406" stroke-width="0.85"/>
<circle cx="616.07" cy="184.6" r="4.05" fill="#078007" stroke="#062406" stroke-width="0.85"/>
<circle cx="618.83" cy="191.8" r="4.05" fill="#078007" stroke="#062406" stroke-width="0.85"/>
<circle cx="621.59" cy="208.8" r="4.05" fill="#078007" stroke="#062406" stroke-width="0.85"/>
<circle cx="624.35" cy="229.16" r="4.05" fill="#078007" stroke="#062406" stroke-width="0.85"/>
<circle cx="627.1" cy="243.26" r="4.05" fill="#078007" stroke="#062406" stroke-width="0.85"/>
<circle cx="629.86" cy="259.03" r="4.05" fill="#078007" stroke="#062406" stroke-width="0.85"/>
<circle cx="632.62" cy="268.23" r="4.05" fill="#078007" stroke="#062406" stroke-width="0.85"/>
<circle cx="635.38" cy="273.44" r="4.05" fill="#078007" stroke="#062406" stroke-width="0.85"/>
<circle cx="638.13" cy="275.06" r="4.05" fill="#078007" stroke="#062406" stroke-width="0.85"/>
<circle cx="640.89" cy="276.72" r="4.05" fill="#078007" stroke="#062406" stroke-width="0.85"/>
<circle cx="643.65" cy="279.04" r="4.05" fill="#078007" stroke="#062406" stroke-width="0.85"/>
<circle cx="646.41" cy="281.88" r="4.05" fill="#078007" stroke="#062406" stroke-width="0.85"/>
<path d="M116.7,380 C-16.28,380 -45.58,41.6 87.4,41.6" fill="none" stroke="#111" stroke-width="1.3"/>
<path d="M112.5,383 Q115.23,380.45 116.7,380 Q115.23,379.55 112.5,377" fill="none" stroke="#111" stroke-width="1.3" stroke-linecap="round"/>
<path d="M83.2,44.6 Q85.93,42.05 87.4,41.6 Q85.93,41.15 83.2,38.6" fill="none" stroke="#111" stroke-width="1.3" stroke-linecap="round"/>
<path d="M116.7,380 C84.55,380 89,425.15 89,457.3" fill="none" stroke="#111" stroke-width="1.3"/>
<path d="M112.5,383 Q115.23,380.45 116.7,380 Q115.23,379.55 112.5,377" fill="none" stroke="#111" stroke-width="1.3" stroke-linecap="round"/>
<path d="M86,453.1 Q88.55,455.83 89,457.3 Q89.45,455.83 92,453.1" fill="none" stroke="#111" stroke-width="1.3" stroke-linecap="round"/>
<path d="M245,380 C353.89,380 255.11,128.6 364,128.6" fill="none" stroke="#111" stroke-width="1.3"/>
<path d="M249.2,377 Q246.47,379.55 245,380 Q246.47,380.45 249.2,383" fill="none" stroke="#111" stroke-width="1.3" stroke-linecap="round"/>
<path d="M359.8,131.6 Q362.53,129.05 364,128.6 Q362.53,128.15 359.8,125.6" fill="none" stroke="#111" stroke-width="1.3" stroke-linecap="round"/>
<path d="M245,380 C277.06,380 272,425.24 272,457.3" fill="none" stroke="#111" stroke-width="1.3"/>
<path d="M249.2,377 Q246.47,379.55 245,380 Q246.47,380.45 249.2,383" fill="none" stroke="#111" stroke-width="1.3" stroke-linecap="round"/>
<path d="M269,453.1 Q271.55,455.83 272,457.3 Q272.45,455.83 275,453.1" fill="none" stroke="#111" stroke-width="1.3" stroke-linecap="round"/>
<path d="M245,380 C338.45,380 372.15,471.2 465.6,471.2" fill="none" stroke="#111" stroke-width="1.3"/>
<path d="M249.2,377 Q246.47,379.55 245,380 Q246.47,380.45 249.2,383" fill="none" stroke="#111" stroke-width="1.3" stroke-linecap="round"/>
<path d="M461.4,474.2 Q464.13,471.65 465.6,471.2 Q464.13,470.75 461.4,468.2" fill="none" stroke="#111" stroke-width="1.3" stroke-linecap="round"/>
<line x1="524.5" y1="388.5" x2="524.5" y2="412" stroke="#111" stroke-width="1.3"/>
<path d="M527.5,392.8 Q524.95,390.07 524.5,388.6 Q524.05,390.07 521.5,392.8" fill="none" stroke="#111" stroke-width="1.3" stroke-linecap="round"/>
<path d="M521.5,408 Q524.05,410.73 524.5,412.2 Q524.95,410.73 527.5,408" fill="none" stroke="#111" stroke-width="1.3" stroke-linecap="round"/></svg>
</body></html>
